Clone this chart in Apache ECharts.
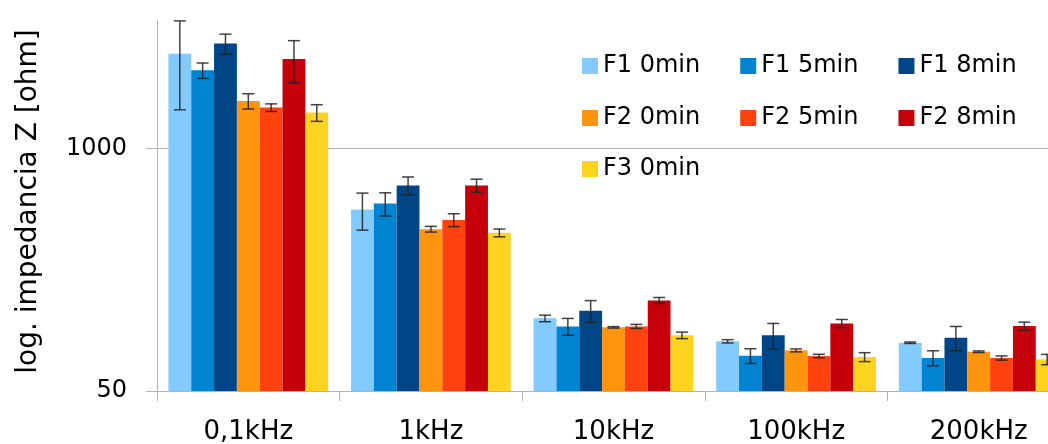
<!DOCTYPE html>
<html>
<head>
<meta charset="utf-8">
<script src="https://cdn.jsdelivr.net/npm/echarts@6/dist/echarts.min.js"></script>
<style>
html,body{margin:0;padding:0;background:#fff;}
#c{width:1048px;height:444px;}
</style>
</head>
<body>
<div id="c"></div>
<script>
var categories = ['0,1kHz', '1kHz', '10kHz', '100kHz', '200kHz'];
var seriesNames = ['F1 0min', 'F1 5min', 'F1 8min', 'F2 0min', 'F2 5min', 'F2 8min', 'F3 0min'];
var colors = ['#83caff', '#0084d1', '#004586', '#ff950e', '#ff420e', '#c5000b', '#ffd320'];

var F1_0 = [3230, 471, 122.7, 92.4, 90.8];
var F1_5 = [2630, 507, 111.1, 77.3, 75.2];
var F1_8 = [3660, 634, 134.8, 99.5, 96.6];
var F2_0 = [1800, 369.5, 109.8, 82.6, 81.2];
var F2_5 = [1660, 414, 111.1, 77.0, 75.2];
var F2_8 = [3025, 634, 153.2, 115.3, 111.6];
var F3_0 = [1560, 353, 99.5, 76.1, 73.9];

var F1_0_err = [1615, 106, 5, 1.9, 0.8];
var F1_5_err = [250, 72, 11.5, 7, 7];
var F1_8_err = [455, 70, 18, 15.7, 14.4];
var F2_0_err = [170, 13, 1, 1.5, 0.8];
var F2_5_err = [78, 33, 2.8, 1.7, 2];
var F2_8_err = [770, 51, 5.6, 5.7, 5.5];
var F3_0_err = [160, 17, 4, 4.2, 4.7];

var yTickLabels = [50, 1000];

var values = [F1_0, F1_5, F1_8, F2_0, F2_5, F2_8, F3_0];
var errors = [F1_0_err, F1_5_err, F1_8_err, F2_0_err, F2_5_err, F2_8_err, F3_0_err];

var FONT = 'DejaVu Sans';
var CAT_GAP = 0.125;

var series = [];
values.forEach(function (vals, i) {
  var s = {
    name: seriesNames[i],
    type: 'bar',
    data: vals,
    itemStyle: { color: colors[i] },
    barGap: '0%',
    barCategoryGap: (CAT_GAP * 100) + '%',
    z: 2
  };
  if (i === 0) {
    s.markLine = {
      silent: true,
      symbol: 'none',
      z: 1,
      label: { show: false },
      lineStyle: { color: '#b3b3b3', width: 1, type: 'solid' },
      data: [{ yAxis: 1000 }],
      animation: false
    };
  }
  series.push(s);
});

var errData = [];
values.forEach(function (vals, i) {
  vals.forEach(function (v, c) {
    errData.push([c, v - errors[i][c], v + errors[i][c], i]);
  });
});

series.push({
  type: 'custom',
  z: 5,
  silent: true,
  data: errData,
  encode: { x: 0, y: [1, 2] },
  renderItem: function (params, api) {
    var c = api.value(0), lo = api.value(1), hi = api.value(2), s = api.value(3);
    var band = api.size([1, 0])[0];
    var bw = band * (1 - CAT_GAP) / 7;
    var pLo = api.coord([c, lo]);
    var pHi = api.coord([c, hi]);
    var x = pLo[0] + (s - 3) * bw;
    var cap = 6;
    var st = { stroke: '#222', lineWidth: 1.5, opacity: 0.85 };
    return {
      type: 'group',
      children: [
        { type: 'line', shape: { x1: x, y1: pLo[1], x2: x, y2: pHi[1] }, style: st },
        { type: 'line', shape: { x1: x - cap, y1: pHi[1], x2: x + cap, y2: pHi[1] }, style: st },
        { type: 'line', shape: { x1: x - cap, y1: pLo[1], x2: x + cap, y2: pLo[1] }, style: st }
      ]
    };
  }
});

function legendRow(names, top) {
  return {
    data: names,
    left: 577,
    top: top,
    orient: 'horizontal',
    icon: 'rect',
    itemWidth: 16,
    itemHeight: 16,
    itemGap: 40,
    selectedMode: false,
    textStyle: { fontFamily: FONT, fontSize: 24, color: '#000', lineHeight: 16 }
  };
}

var chart = echarts.init(document.getElementById('c'), null, { renderer: 'canvas' });
chart.setOption({
  backgroundColor: '#fff',
  animation: false,
  color: colors,
  textStyle: { fontFamily: FONT },
  grid: { left: 157, right: -22, top: 20, bottom: 53, containLabel: false, outerBoundsMode: 'none' },
  legend: [
    legendRow(seriesNames.slice(0, 3), 49),
    legendRow(seriesNames.slice(3, 6), 101),
    legendRow(seriesNames.slice(6, 7), 152)
  ],
  xAxis: {
    type: 'category',
    data: categories,
    axisLine: { lineStyle: { color: '#b3b3b3', width: 1 } },
    axisTick: { show: true, alignWithLabel: false, length: 10, lineStyle: { color: '#b3b3b3' } },
    axisLabel: { fontFamily: FONT, fontSize: 26, color: '#000', margin: 28 },
    splitLine: { show: false }
  },
  yAxis: {
    type: 'log',
    logBase: 10,
    min: 50,
    max: 4900,
    name: 'log. impedancia Z [ohm]',
    nameLocation: 'middle',
    nameRotate: 90,
    nameGap: 114,
    nameTextStyle: { fontFamily: FONT, fontSize: 28, color: '#000', padding: [0, 0, 0, 8] },
    axisLine: { show: true, lineStyle: { color: '#b3b3b3', width: 1 } },
    axisTick: { show: true, length: 11, customValues: yTickLabels, lineStyle: { color: '#b3b3b3' } },
    splitLine: { show: false },
    axisLabel: {
      fontFamily: FONT, fontSize: 24, color: '#000', margin: 30,
      formatter: function (v) {
        var r = Math.round(v);
        return yTickLabels.indexOf(r) >= 0 ? String(r) : '';
      }
    }
  },
  series: series
});
</script>
</body>
</html>
